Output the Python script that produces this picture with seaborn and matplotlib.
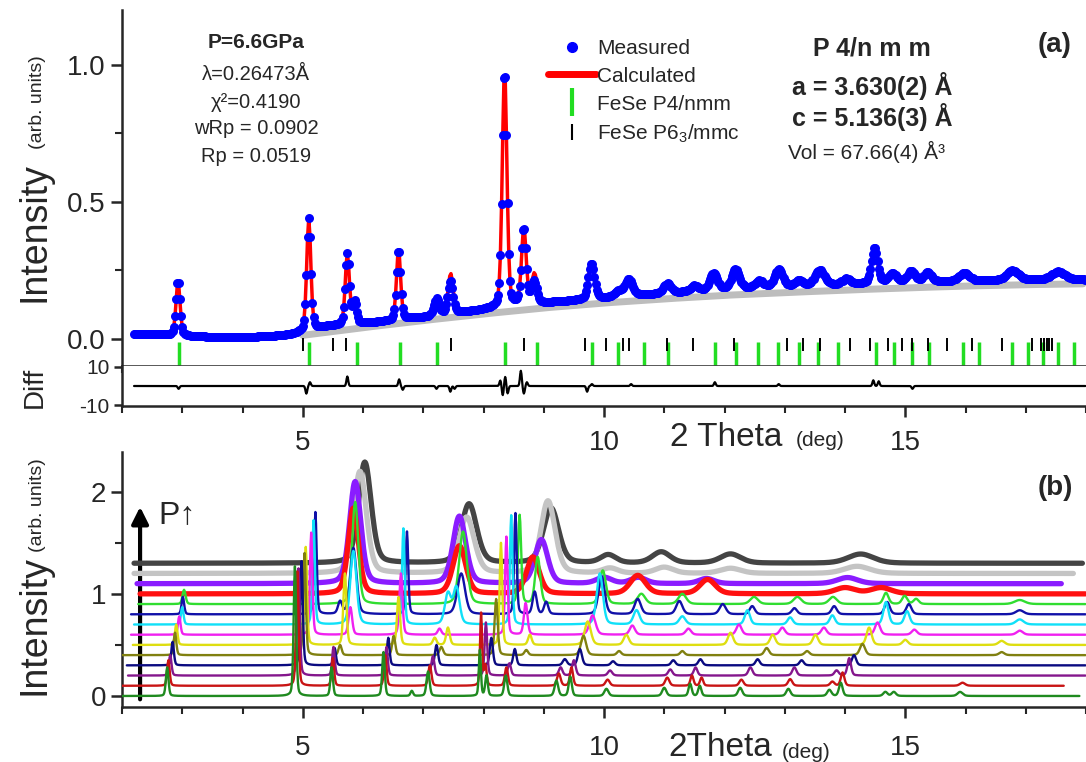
import numpy as np
import pandas as pd
import matplotlib
matplotlib.use('Agg')
import matplotlib.pyplot as plt
import seaborn as sns
from matplotlib.lines import Line2D
from matplotlib.ticker import MultipleLocator, FormatStrFormatter

# ---------------- panel (a): fit at 6.6 GPa ----------------
# background under the measured pattern (GSAS-like linear interpolation points)
base_x = [2.0, 2.6, 3.2, 3.8, 4.4, 4.8, 5.0, 5.4, 6.0, 7.0, 8.0, 9.0, 10.0, 11.0,
          12.0, 13.0, 14.0, 15.0, 16.0, 17.0, 18.0]
base_y = [0.017, 0.015, 0.008, 0.005, 0.008, 0.015, 0.025, 0.045, 0.055, 0.078, 0.105,
          0.13, 0.148, 0.165, 0.18, 0.19, 0.198, 0.205, 0.21, 0.215, 0.215]
# grey refined background
bkg_x = [5.0, 6.0, 7.0, 8.0, 9.0, 10.0, 11.0, 12.0, 13.0, 14.0, 15.0, 16.0, 17.0, 18.0]
bkg_y = [0.012, 0.04, 0.066, 0.09, 0.112, 0.13, 0.145, 0.158, 0.168, 0.177, 0.185,
         0.192, 0.197, 0.2]
# observed peaks: position (deg), height, fwhm
peak_pos = [2.93, 5.10, 5.74, 5.86, 6.59, 7.22, 7.45, 8.35, 8.67, 8.84, 9.79, 10.24,
            10.41, 11.05, 11.5, 11.82, 12.18, 12.58, 12.90, 13.24, 13.58, 14.02, 14.49,
            14.79, 15.10, 15.37, 15.98, 16.78, 17.54]
peak_int = [0.2, 0.41, 0.26, 0.08, 0.26, 0.06, 0.12, 0.87, 0.28, 0.08, 0.13, 0.02,
            0.06, 0.035, 0.02, 0.06, 0.07, 0.025, 0.065, 0.02, 0.055, 0.02, 0.13,
            0.035, 0.04, 0.035, 0.03, 0.035, 0.03]
peak_fwhm = [0.08, 0.08, 0.08, 0.08, 0.08, 0.1, 0.1, 0.09, 0.09, 0.1, 0.12, 0.15,
             0.15, 0.15, 0.15, 0.15, 0.15, 0.15, 0.15, 0.15, 0.18, 0.15, 0.12, 0.15,
             0.15, 0.15, 0.2, 0.22, 0.25]
calc_extra_pos = [7.47, 8.86]
calc_extra_int = [0.03, 0.03]
# difference curve features
diff_pos = [2.94, 5.06, 5.12, 5.74, 6.60, 6.66, 7.22, 7.45, 7.52, 8.28, 8.32, 8.36,
            8.40, 8.62, 8.67, 8.72, 9.72, 9.80, 10.45, 11.84, 12.9, 14.47, 14.56, 15.12]
diff_amp = [-1.5, -4, 2, 5, 3.5, -2, -1.5, -3, -1.5, 3, -5, 5, -4, 8, -4, 2, -3, 1,
            1, 2, 1, 3, 2.5, -1.5]
# reflection markers
tick_p4nmm = [2.94, 5.11, 5.90, 6.61, 7.23, 8.35, 8.88, 9.80, 10.24, 10.66, 11.06,
              11.84, 12.19, 12.56, 12.89, 13.24, 13.56, 13.89, 14.52, 14.82, 15.12,
              15.40, 15.96, 16.23, 16.78, 17.03, 17.29, 17.54, 17.80]
tick_p63mmc = [5.00, 5.50, 5.71, 7.46, 8.68, 9.68, 10.04, 10.31, 10.42, 11.04, 11.47,
               12.15, 13.03, 13.31, 13.59, 14.09, 14.42, 14.72, 14.95, 15.12, 15.37,
               15.70, 16.10, 16.61, 17.11, 17.26, 17.31, 17.36, 17.39, 17.44]

# ---------------- panel (b): patterns vs pressure (bottom = lowest P) ----------------
offsets = [0.0, 0.1, 0.2, 0.3, 0.4, 0.5, 0.6, 0.7, 0.8, 0.9, 1.0, 1.1, 1.2, 1.3]
colors = ['#1f8a1f', '#c81414', '#84168c', '#0a0a80', '#808010', '#dede10', '#f020f0',
          '#10e0f8', '#1010a8', '#30dd30', '#ff1010', '#8a1cff', '#c4c4c4', '#444444']
x_start = [2.0, 2.0, 2.1, 2.08, 2.0, 2.18, 2.15, 2.2, 2.15, 2.27, 2.3, 2.25, 2.2, 2.2]
x_end = [17.9, 17.64, 18.0, 18.0, 18.0, 18.0, 18.0, 18.0, 18.0, 18.0, 18.0, 17.6, 17.8, 17.94]

peaks_b0 = [(2.75, .28, .05), (4.87, 1.27, .05), (5.48, .28, .05), (6.34, .43, .05),
            (6.81, .05, .05), (7.08, .24, .06), (7.94, .45, .04), (8.05, .2, .05),
            (8.37, .2, .06), (9.21, .15, .07), (9.44, .19, .06), (10.04, .07, .08),
            (11.0, .08, .08), (11.43, .12, .06), (11.59, .1, .06), (12.26, .08, .08),
            (13.06, .07, .08), (13.74, .06, .08), (13.93, .13, .07), (14.67, .04, .08),
            (14.81, .04, .08), (15.91, .04, .1)]
peaks_b1 = [(2.77, .25, .05), (4.91, 1.12, .05), (5.50, .27, .05), (6.37, .3, .05),
            (7.11, .2, .06), (7.96, .71, .04), (8.03, .2, .05), (8.38, .18, .06),
            (9.25, .12, .07), (9.46, .18, .06), (10.06, .06, .08), (11.05, .08, .08),
            (11.46, .1, .06), (11.62, .08, .06), (12.28, .06, .08), (13.09, .065, .08),
            (13.79, .04, .08), (13.96, .13, .07), (15.95, .03, .1)]
peaks_b2 = [(2.80, .2, .05), (4.93, 1.05, .05), (5.51, .28, .05), (6.39, .28, .05),
            (7.16, .19, .06), (8.04, .52, .05), (8.43, .12, .06), (9.28, .08, .07),
            (9.50, .15, .07), (10.1, .05, .08), (11.1, .06, .08), (11.52, .08, .07),
            (12.43, .08, .08), (13.16, .08, .08), (13.86, .05, .08), (14.07, .17, .07)]
peaks_b3 = [(2.84, .23, .05), (4.98, 1.02, .05), (5.53, .17, .05), (6.42, .27, .05),
            (7.22, .2, .06), (8.13, .27, .06), (8.52, .16, .06), (9.35, .06, .08),
            (9.60, .16, .08), (10.15, .04, .08), (11.15, .05, .08), (11.6, .06, .08),
            (12.55, .06, .08), (13.28, .05, .08), (14.15, .1, .08)]
peaks_b4 = [(2.88, .22, .05), (5.03, 1.0, .05), (5.62, .1, .06), (6.51, .19, .06),
            (7.3, .08, .07), (8.21, .55, .06), (8.71, .05, .07), (9.66, .19, .1),
            (10.25, .04, .08), (11.3, .04, .08), (12.7, .07, .09), (13.37, .04, .09),
            (14.29, .11, .1), (16.6, .03, .1)]
peaks_b5 = [(2.90, .2, .05), (5.05, .96, .05), (5.70, .7, .06), (6.59, .47, .06),
            (7.19, .07, .07), (7.41, .17, .07), (8.29, 1.0, .05), (8.77, .1, .07),
            (9.73, .23, .12), (10.37, .1, .1), (12.1, .12, .1), (12.8, .1, .1),
            (13.51, .1, .1), (14.4, .17, .1), (15.0, .05, .1), (16.6, .04, .12)]
peaks_b6 = [(2.95, .18, .05), (5.14, 1.0, .05), (5.79, .27, .07), (6.63, .6, .06),
            (7.27, .06, .07), (8.38, .96, .05), (8.70, .31, .07), (9.81, .19, .12),
            (10.47, .09, .1), (11.4, .06, .1), (12.24, .1, .1), (12.96, .07, .1),
            (13.65, .07, .1), (14.54, .12, .1), (15.15, .05, .1), (16.9, .04, .12)]
peaks_b7 = [(3.0, .17, .05), (5.18, 1.02, .05), (5.84, .72, .12), (6.67, .94, .05),
            (7.41, .3, .12), (7.55, .36, .12), (8.46, 1.07, .05), (9.93, .5, .12),
            (10.54, .14, .12), (11.3, .08, .12), (12.38, .14, .1), (13.09, .07, .1),
            (13.79, .09, .1), (14.68, .22, .1), (15.03, .13, .1), (16.9, .05, .15)]
peaks_b8 = [(3.01, .17, .05), (5.21, 1.0, .05), (5.62, .12, .08), (5.84, .65, .12),
            (6.73, .81, .05), (7.63, .4, .15), (8.53, .99, .05), (8.85, .22, .08),
            (9.04, .12, .08), (9.96, .37, .12), (10.56, .15, .12), (11.25, .13, .12),
            (11.97, .1, .12), (12.46, .08, .1), (13.16, .06, .1), (13.82, .08, .1),
            (14.70, .12, .1), (15.06, .1, .1), (16.9, .04, .15)]
peaks_b9 = [(3.03, .14, .06), (5.87, 1.0, .12), (7.66, .71, .15), (8.6, .87, .06),
            (8.9, .46, .1), (9.98, .33, .12), (10.62, .1, .15), (11.3, .1, .15),
            (12.49, .07, .15), (13.21, .07, .15), (13.8, .07, .15), (14.68, .11, .1),
            (14.99, .08, .1), (15.18, .05, .1), (16.9, .04, .2)]
peaks_b10 = [(5.84, .84, .2), (7.6, .47, .25), (8.82, .36, .25), (10.56, .18, .3),
             (11.72, .14, .3), (14.0, .06, .4), (14.6, .06, .4)]
peaks_b11 = [(5.87, 1.0, .22), (7.6, .66, .25), (8.96, .43, .25), (10.0, .06, .3),
             (10.57, .06, .3), (11.7, .05, .3), (14.04, .06, .4)]
peaks_b12 = [(5.95, 1.0, .25), (7.72, .55, .3), (9.07, .71, .28), (10.1, .05, .3),
             (11.0, .06, .35), (12.1, .05, .4), (14.2, .07, .5)]
peaks_b13 = [(6.03, .99, .25), (7.76, .58, .3), (9.12, .54, .3), (10.07, .08, .3),
             (10.95, .11, .35), (12.1, .09, .4), (14.26, .09, .5)]
peaks_b = [peaks_b0, peaks_b1, peaks_b2, peaks_b3, peaks_b4, peaks_b5, peaks_b6,
           peaks_b7, peaks_b8, peaks_b9, peaks_b10, peaks_b11, peaks_b12, peaks_b13]


def profile(x, pos, amp, fwhm, eta=0.3):
    y = np.zeros_like(x)
    for p, a, w in zip(pos, amp, fwhm):
        g = np.exp(-4 * np.log(2) * ((x - p) / w) ** 2)
        l = 1 / (1 + 4 * ((x - p) / w) ** 2)
        y += a * (eta * l + (1 - eta) * g)
    return y


W, H = 1086, 762
fx = lambda px: px / W
fy = lambda py: 1 - py / H

sns.set_style('ticks')
plt.rcParams['font.family'] = ['Liberation Sans', 'DejaVu Sans']
plt.rcParams['mathtext.fontset'] = 'custom'
plt.rcParams['mathtext.rm'] = 'Liberation Sans'
plt.rcParams['axes.linewidth'] = 1.8
plt.rcParams['axes.unicode_minus'] = False

fig = plt.figure(figsize=(10.86, 7.62), dpi=100)
fig.set_facecolor('white')
axa = fig.add_axes([fx(122), fy(366), 1 - fx(122), 356 / H])
axd = fig.add_axes([fx(122), fy(406), 1 - fx(122), 40 / H])
axb = fig.add_axes([fx(122), fy(707), 1 - fx(122), 255 / H])

# ---- panel (a) ----
xa = np.arange(2.2, 18.0, 0.02)
meas = np.interp(xa, base_x, base_y) + profile(xa, peak_pos, peak_int, peak_fwhm)
calc = meas + profile(xa, calc_extra_pos, calc_extra_int, [0.08, 0.1])
xg = np.arange(5.0, 18.0, 0.05)
bkg = np.interp(xg, bkg_x, bkg_y)

sns.lineplot(x=xg, y=bkg, color='#bdbdbd', lw=5, ax=axa, zorder=1)
sns.lineplot(x=xa, y=calc, color='red', lw=2.5, ax=axa, zorder=2)
sns.scatterplot(x=xa, y=meas, color='#0000ff', s=42, linewidth=0, ax=axa, zorder=3)
axa.vlines(tick_p4nmm, -0.095, -0.012, color='#22dd22', lw=2.5)
axa.vlines(tick_p63mmc, -0.045, 0.003, color='black', lw=1.4)

axa.set_xlim(2, 18)
axa.set_ylim(-0.10, 1.20)
axa.set_yticks([0.0, 0.5, 1.0])
axa.yaxis.set_minor_locator(MultipleLocator(0.25))
axa.yaxis.set_major_formatter(FormatStrFormatter('%.1f'))
axa.xaxis.set_major_locator(MultipleLocator(5))
axa.xaxis.set_minor_locator(MultipleLocator(1))
axa.tick_params(axis='x', which='both', labelbottom=False, direction='out')
axa.tick_params(axis='x', which='major', length=8, width=1.8)
axa.tick_params(axis='x', which='minor', length=5, width=1.5)
axa.tick_params(axis='y', which='major', length=8, width=1.8, labelsize=20, pad=4)
axa.tick_params(axis='y', which='minor', length=5, width=1.5)
for s in ['top', 'right']:
    axa.spines[s].set_visible(False)
axa.set_xlabel('')
axa.set_ylabel('')

handles = [Line2D([], [], marker='o', color='#0000ff', ls='none', markersize=7),
           Line2D([], [], color='red', lw=5),
           Line2D([], [], marker='|', color='#22dd22', ls='none', markersize=20, mew=3),
           Line2D([], [], marker='|', color='black', ls='none', markersize=11, mew=1.5)]
labels = ['Measured', 'Calculated', 'FeSe P4/nmm', 'FeSe P6$_3$/mmc']
axa.legend(handles, labels, loc='upper left', bbox_to_anchor=((548 - 122) / 964, (366 - 39) / 356),
           frameon=False, fontsize=15, handlelength=2.3, handletextpad=0.05,
           labelspacing=0.42, borderpad=0, borderaxespad=0)

# ---- difference ----
xd = np.arange(2.2, 18.0, 0.01)
diff = profile(xd, diff_pos, diff_amp, [0.035] * len(diff_pos), eta=0.0)
sns.lineplot(x=xd, y=diff, color='black', lw=1.6, ax=axd)
axd.set_xlim(2, 18)
axd.set_ylim(-10.5, 10.5)
axd.set_yticks([-10, 10])
axd.xaxis.set_major_locator(MultipleLocator(5))
axd.xaxis.set_minor_locator(MultipleLocator(1))
axd.tick_params(axis='x', which='major', length=8, width=1.8, labelsize=20, pad=9)
axd.tick_params(axis='x', which='minor', length=5, width=1.5)
axd.tick_params(axis='y', which='major', length=6, width=1.8, labelsize=15, pad=3)
for s in ['top', 'right']:
    axd.spines[s].set_visible(False)
axd.set_xlabel('')
axd.set_ylabel('')

# ---- panel (b) ----
for i in range(len(peaks_b) - 1, -1, -1):
    xb = np.arange(x_start[i], x_end[i], 0.01)
    pk = peaks_b[i]
    yb = offsets[i] + profile(xb, [p[0] for p in pk], [p[1] for p in pk], [p[2] for p in pk])
    df = pd.DataFrame({'two_theta': xb, 'intensity': yb})
    lw = 3.8 if i >= 10 else 1.7
    sns.lineplot(data=df, x='two_theta', y='intensity', color=colors[i], lw=lw,
                 ax=axb, zorder=20 - i, solid_capstyle='round')

axb.annotate('', xy=(2.30, 1.88), xytext=(2.30, -0.06),
             arrowprops=dict(arrowstyle='-|>', lw=3, color='black', mutation_scale=25))
axb.text(2.6, 1.77, 'P↑', fontsize=23, va='center', ha='left')

axb.set_xlim(2, 18)
axb.set_ylim(-0.108, 2.39)
axb.set_yticks([0, 1, 2])
axb.yaxis.set_minor_locator(MultipleLocator(0.5))
axb.xaxis.set_major_locator(MultipleLocator(5))
axb.xaxis.set_minor_locator(MultipleLocator(1))
axb.tick_params(axis='both', which='major', length=8, width=1.8, labelsize=20)
axb.tick_params(axis='x', which='major', pad=12)
axb.tick_params(axis='both', which='minor', length=5, width=1.5)
for s in ['top', 'right']:
    axb.spines[s].set_visible(False)
axb.set_xlabel('')
axb.set_ylabel('')

# ---- annotations ----
fig.text(fx(256), fy(43), 'P=6.6GPa', ha='center', va='center', fontsize=15, fontweight='bold')
for txt, py in [('λ=0.26473Å', 74), ('χ²=0.4190', 102), ('wRp = 0.0902', 129),
                ('Rp = 0.0519', 156)]:
    fig.text(fx(256), fy(py), txt, ha='center', va='center', fontsize=14.5)
fig.text(fx(872), fy(48), 'P 4/n m m', ha='center', va='center', fontsize=18, fontweight='bold')
fig.text(fx(872), fy(86), 'a = 3.630(2) Å', ha='center', va='center', fontsize=18, fontweight='bold')
fig.text(fx(872), fy(117), 'c = 5.136(3) Å', ha='center', va='center', fontsize=18, fontweight='bold')
fig.text(fx(866), fy(152), 'Vol = 67.66(4) Å³', ha='center', va='center', fontsize=15)
fig.text(fx(1055), fy(45), '(a)', ha='center', va='center', fontsize=20, fontweight='bold')
fig.text(fx(1055), fy(488), '(b)', ha='center', va='center', fontsize=20, fontweight='bold')

fig.text(fx(35), fy(232), 'Intensity', rotation=90, ha='center', va='center', fontsize=27)
fig.text(fx(37), fy(102), '(arb. units)', rotation=90, ha='center', va='center', fontsize=14)
fig.text(fx(35), fy(625), 'Intensity', rotation=90, ha='center', va='center', fontsize=27)
fig.text(fx(37), fy(505), '(arb. units)', rotation=90, ha='center', va='center', fontsize=14)
fig.text(fx(35), fy(387), 'Diff', rotation=90, ha='center', va='center', fontsize=20)

fig.text(fx(726), fy(437), '2 Theta', ha='center', va='center', fontsize=24)
fig.text(fx(820), fy(441), '(deg)', ha='center', va='center', fontsize=15)
fig.text(fx(720), fy(748), '2Theta', ha='center', va='center', fontsize=24)
fig.text(fx(806), fy(752), '(deg)', ha='center', va='center', fontsize=15)

fig.savefig('out.png', dpi=100)
